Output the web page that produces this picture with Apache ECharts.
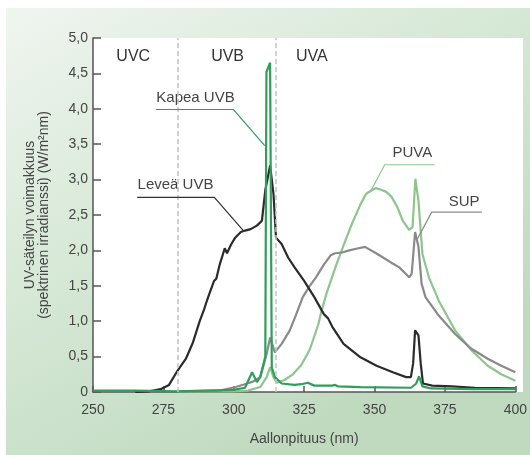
<!DOCTYPE html>
<html>
<head>
<meta charset="utf-8">
<script src="https://cdn.jsdelivr.net/npm/echarts@6/dist/echarts.min.js"></script>
<style>
  html, body { margin: 0; padding: 0; background: #fff; }
  #main { width: 530px; height: 455px; }
</style>
</head>
<body>
<div id="main"></div>
<script>
// aallonpituudet (nm) ja voimakkuudet (W/m2nm), luettu kuvasta
var levWl = [265, 270, 274, 277, 280, 283, 285.5, 287.9, 289.5, 290.2, 291, 293, 293.8, 295, 296.8, 297.6, 299, 300.5, 302.5, 304, 306, 308.2, 310, 311.2, 312.9, 314.1, 315, 317, 319.3, 321.6, 325, 328.6, 332, 333.5, 335, 339, 345, 350.7, 356.5, 361.2, 362.9, 363.7, 364.4, 365.6, 366.4, 367.2, 370.5, 377.4, 385.6, 400];
var levVal = [0, 0.01, 0.04, 0.1, 0.3, 0.47, 0.7, 1.0, 1.17, 1.26, 1.35, 1.57, 1.6, 1.8, 2.03, 1.96, 2.08, 2.18, 2.26, 2.28, 2.3, 2.35, 2.42, 2.85, 3.2, 2.8, 2.18, 2.09, 1.9, 1.76, 1.57, 1.34, 1.1, 1.04, 0.92, 0.68, 0.49, 0.37, 0.28, 0.21, 0.21, 0.4, 0.87, 0.8, 0.4, 0.12, 0.09, 0.08, 0.06, 0.05];

var kapWl = [250, 265, 280, 290, 300, 304, 306.5, 308.2, 309.4, 311.2, 311.6, 312.9, 313.5, 314.6, 317, 321.6, 324, 326.3, 328.6, 335, 336, 337, 345, 363, 364.8, 365.8, 367, 370, 385, 400];
var kapVal = [0.02, 0.02, 0.01, 0.02, 0.03, 0.06, 0.28, 0.14, 0.21, 0.5, 4.52, 4.65, 0.35, 0.21, 0.12, 0.1, 0.11, 0.13, 0.09, 0.09, 0.1, 0.08, 0.07, 0.06, 0.12, 0.22, 0.08, 0.05, 0.04, 0.04];

var puvaWl = [280, 290, 300, 305, 309.4, 311.7, 312.9, 314.1, 315.3, 318, 321, 324, 327, 330, 331, 333, 336, 339, 342, 345, 347, 349, 350.5, 352, 354, 356, 358, 360, 362.3, 363.5, 364.5, 365.6, 367, 369.3, 372.8, 378.6, 384.4, 390.2, 395, 400];
var puvaVal = [0.01, 0.01, 0.01, 0.02, 0.07, 0.21, 0.35, 0.21, 0.13, 0.17, 0.25, 0.38, 0.6, 0.95, 1.12, 1.4, 1.75, 2.07, 2.38, 2.65, 2.8, 2.85, 2.88, 2.86, 2.83, 2.76, 2.62, 2.42, 2.29, 2.33, 3.01, 2.7, 1.95, 1.62, 1.29, 0.87, 0.59, 0.37, 0.25, 0.16];

var supWl = [280, 295, 300.7, 304.8, 307, 309.4, 311.7, 312.9, 314.6, 317, 319.9, 322, 324.5, 327, 329.2, 332, 334.4, 336, 338.5, 341, 343.1, 346.6, 350.1, 353, 355.8, 358.8, 362.3, 363.2, 364.4, 365.6, 366.7, 368.1, 372.8, 378.6, 384.4, 390.2, 395, 400];
var supVal = [0.01, 0.02, 0.07, 0.12, 0.15, 0.21, 0.54, 0.77, 0.56, 0.68, 0.87, 1.08, 1.34, 1.5, 1.62, 1.8, 1.93, 1.96, 1.97, 2.0, 2.02, 2.05, 1.97, 1.9, 1.83, 1.76, 1.62, 1.67, 2.26, 2.05, 1.53, 1.34, 1.08, 0.82, 0.61, 0.47, 0.37, 0.28];

var bandEdges = [280, 315];
var bandNames = ['UVC', 'UVB', 'UVA'];
var bandCenters = [264.3, 297.8, 327.7];

// selitteet viivoineen (datakoordinaateissa)
var callouts = [
  { text: 'Kapea UVB', at: [286.4, 4.16], color: '#2f9e5a', line: [[272.3, 3.99], [299.9, 3.99], [311.0, 3.48]] },
  { text: 'Leveä UVB', at: [279.3, 2.93], color: '#333333', line: [[265.7, 2.75], [293.1, 2.75], [303.4, 2.28]] },
  { text: 'PUVA', at: [363.4, 3.38], color: '#8dc68d', line: [[371.3, 3.21], [353.6, 3.21], [348.4, 2.82]] },
  { text: 'SUP', at: [381.8, 2.69], color: '#8a8a8a', line: [[388.1, 2.54], [370.3, 2.54], [365.2, 2.16]] }
];

function pairs(xs, ys) {
  return xs.map(function (x, i) { return [x, ys[i]]; });
}

var font = 'Liberation Sans, Arial, sans-serif';
var myChart = echarts.init(document.getElementById('main'));

var option = {
  backgroundColor: '#ffffff',
  animation: false,
  textStyle: { fontFamily: font },
  grid: { left: 93, right: 7, top: 38, bottom: 63, show: true, backgroundColor: '#ffffff', borderWidth: 0 },
  xAxis: {
    type: 'value',
    min: 250, max: 400, interval: 25,
    name: 'Aallonpituus (nm)',
    nameLocation: 'middle',
    nameGap: 40,
    nameTextStyle: { fontSize: 14, color: '#444' },
    axisLine: { lineStyle: { color: '#555', width: 1.5 } },
    axisTick: { inside: true, length: 6, lineStyle: { color: '#555', width: 1.5 } },
    axisLabel: { fontSize: 14, color: '#444', margin: 11 },
    splitLine: { show: false }
  },
  yAxis: {
    type: 'value',
    min: 0, max: 5, interval: 0.5,
    name: 'UV-säteilyn voimakkuus\n(spektrinen irradianssi) (W/m²nm)',
    nameLocation: 'middle',
    nameGap: 42,
    nameTextStyle: { fontSize: 14, color: '#444', lineHeight: 14 },
    axisLine: { show: true, lineStyle: { color: '#555', width: 1.5 } },
    axisTick: { show: true, inside: true, length: 8, lineStyle: { color: '#555', width: 1.5 } },
    axisLabel: {
      fontSize: 14, color: '#444', margin: 5,
      formatter: function (v) { return v === 0 ? '0' : v.toFixed(1).replace('.', ','); }
    },
    splitLine: { show: false }
  },
  series: [
    {
      name: 'PUVA', type: 'line', showSymbol: false, symbol: 'none',
      data: pairs(puvaWl, puvaVal),
      lineStyle: { color: '#8dc68d', width: 2.2 },
      markLine: {
        silent: true, symbol: 'none', label: { show: false },
        lineStyle: { type: [5, 3], color: '#c4c4c4', width: 1.5 },
        data: bandEdges.map(function (x) { return { xAxis: x }; })
      }
    },
    {
      name: 'SUP', type: 'line', showSymbol: false, symbol: 'none',
      data: pairs(supWl, supVal),
      lineStyle: { color: '#8a8a8a', width: 2.2 }
    },
    {
      name: 'Leveä UVB', type: 'line', showSymbol: false, symbol: 'none',
      data: pairs(levWl, levVal),
      lineStyle: { color: '#2b2b2b', width: 2.2 }
    },
    {
      name: 'Kapea UVB', type: 'line', showSymbol: false, symbol: 'none',
      data: pairs(kapWl, kapVal),
      lineStyle: { color: '#2f9e5a', width: 2.2 }
    }
  ]
};

myChart.setOption(option);

var els = [{
  type: 'rect', z: -100, silent: true,
  shape: { x: 6, y: 8, width: 524, height: 447 },
  style: {
    fill: new echarts.graphic.LinearGradient(0, 0, 0.5, 1, [
      { offset: 0, color: '#f0f5f0' },
      { offset: 0.5, color: '#d6e8d6' },
      { offset: 1, color: '#c0dac0' }
    ])
  }
}, {
  type: 'rect', z: -99, silent: true,
  shape: { x: 93, y: 38, width: 430, height: 354 },
  style: { fill: '#ffffff' }
}];

bandNames.forEach(function (t, i) {
  var p = myChart.convertToPixel({ gridIndex: 0 }, [bandCenters[i], 4.74]);
  els.push({
    type: 'text', x: p[0], y: p[1], silent: true,
    style: { text: t, fill: '#333', font: '16px ' + font, align: 'center', verticalAlign: 'middle' }
  });
});

callouts.forEach(function (c) {
  var p = myChart.convertToPixel({ gridIndex: 0 }, c.at);
  els.push({
    type: 'text', x: p[0], y: p[1], silent: true,
    style: { text: c.text, fill: '#444', font: '15px ' + font, align: 'center', verticalAlign: 'middle' }
  });
  els.push({
    type: 'polyline', silent: true, z: 10,
    shape: { points: c.line.map(function (d) { return myChart.convertToPixel({ gridIndex: 0 }, d); }) },
    style: { stroke: c.color, lineWidth: 1.2, fill: null }
  });
});

myChart.setOption({ graphic: { elements: els } });
</script>
</body>
</html>
